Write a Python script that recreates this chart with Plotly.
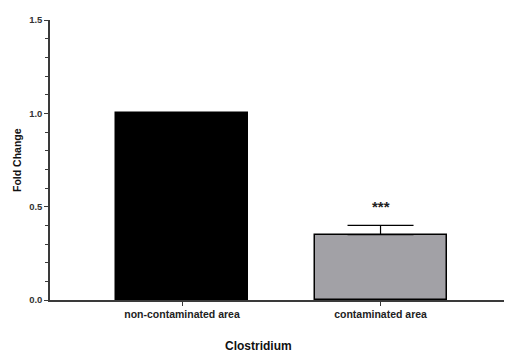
import plotly.graph_objects as go

categories = ["non-contaminated area", "contaminated area"]
fold_change = [1.0, 0.35]
error_up = [0.0, 0.05]
bar_colors = ["#000000", "#a2a1a6"]
y_ticks = [0.0, 0.5, 1.0, 1.5]
y_tick_labels = ["0.0", "0.5", "1.0", "1.5"]
significance = "***"
x_title = "Clostridium"
y_title = "Fold Change"

AX = "#3a3a3a"
bold_font = "Liberation Sans, Arial, sans-serif"

fig = go.Figure()
fig.add_trace(go.Bar(
    x=categories, y=fold_change, width=0.665,
    marker=dict(color=bar_colors, line=dict(color="#000000", width=1.5)),
    error_y=dict(type="data", symmetric=False, array=error_up,
                 arrayminus=[0, 0], color="#000000", thickness=1.2, width=33),
    showlegend=False,
))
fig.add_annotation(x=categories[1], y=fold_change[1] + error_up[1] + 0.1,
                   text="<b>" + significance + "</b>", showarrow=False,
                   font=dict(size=15, color="#222", family=bold_font))
fig.add_annotation(xref="paper", yref="paper", x=(258 - 50) / 455, y=-46 / 280,
                   xanchor="center", yanchor="middle",
                   text="<b>" + x_title + "</b>", showarrow=False,
                   font=dict(size=12, color="#111", family=bold_font))
fig.add_annotation(xref="paper", yref="paper", x=-33 / 455, y=0.5, textangle=-90,
                   xanchor="center", yanchor="middle",
                   text="<b>" + y_title + "</b>", showarrow=False,
                   font=dict(size=10.5, color="#111", family=bold_font))

fig.update_layout(
    width=504, height=349,
    margin=dict(l=42, r=7, t=12, b=57),
    plot_bgcolor="white", paper_bgcolor="white",
    bargap=0,
    xaxis=dict(
        range=[-0.665, 1.627], showline=True, linecolor=AX, linewidth=1.5,
        tickvals=categories, ticktext=["<b>" + c + "</b>" for c in categories],
        ticks="outside", ticklen=4, tickcolor=AX, tickwidth=1,
        tickfont=dict(family=bold_font, size=10.5, color="#222"),
        showgrid=False, zeroline=False, automargin=False,
    ),
    yaxis=dict(
        range=[0, 1.5], showline=True, linecolor=AX, linewidth=1.5,
        tickvals=y_ticks, ticktext=["<b>" + t + "</b>" for t in y_tick_labels],
        ticks="outside", ticklen=4, tickcolor=AX, tickwidth=1.2,
        minor=dict(dtick=0.1, ticks="outside", ticklen=3, tickcolor=AX, tickwidth=1),
        tickfont=dict(family=bold_font, size=9.5, color="#333"),
        showgrid=False, zeroline=False, automargin=False,
    ),
)
fig.write_html("out.html")
